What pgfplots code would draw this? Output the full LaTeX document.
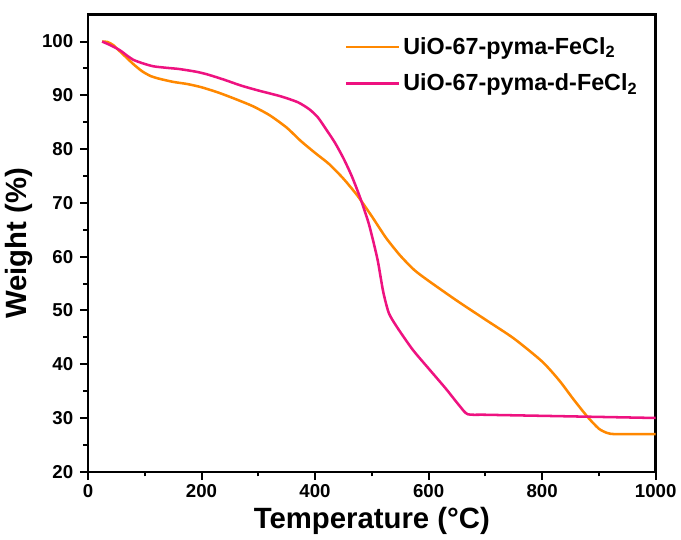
\documentclass[border=0pt]{standalone}
\usepackage{fontspec}
\setmainfont{Liberation Sans}
\usepackage{pgfplots}
\pgfplotsset{compat=1.18}
\definecolor{tgaorange}{RGB}{255,136,0}
\definecolor{tgapink}{RGB}{238,18,128}

\begin{document}
\begin{tikzpicture}
\begin{axis}[scale only axis,width=426pt,height=343pt,
  xmin=0,xmax=1000,ymin=20,ymax=105,
  xtick={0,200,...,1000},ytick={20,30,...,100},
  minor x tick num=1,minor y tick num=1,
  axis line style={line width=1.8pt},
  tick style={line width=1.5pt,black},
  tick align=outside,xtick pos=bottom,ytick pos=left,
  major tick length=6pt,minor tick length=3.5pt,
  /pgf/number format/assume math mode=true,
  /pgf/number format/1000 sep={},
  tick label style={font=\bfseries\fontsize{14}{16}\selectfont},
  yticklabel style={xshift=-1.5pt},
  xlabel={Temperature (°C)},ylabel={Weight (\%)},
  label style={font=\bfseries\fontsize{22}{25}\selectfont},
  legend style={draw=none,fill=none,at={(0.445,0.962)},anchor=north west,
    font=\bfseries\fontsize{17.5}{20}\selectfont,row sep=9pt,
    cells={anchor=west},nodes={xshift=2.5pt}},
  legend image code/.code={\draw[#1,line width=1.9pt] (0pt,0pt) -- (40pt,0pt);},
  every axis plot/.append style={line width=1.9pt,smooth,tension=0.4}]
\addplot[tgaorange] coordinates {
 (25,100) (35,99.9) (45,99.3) (55,98.3) (65,97.3) (80,95.8) (95,94.5)
 (110,93.6) (125,93.1) (150,92.5) (175,92.1) (200,91.5) (230,90.5)
 (260,89.3) (290,88.0) (320,86.3) (350,84.0) (375,81.5) (400,79.3)
 (425,77.2) (450,74.5) (475,71.3) (500,67.5) (525,63.5) (550,60.2)
 (575,57.5) (600,55.5) (650,51.8) (700,48.3) (750,44.8) (800,40.5)
 (830,37.0) (855,33.5) (880,30.2) (900,28.0) (915,27.2) (930,27.0)
 (1000,27.0)};
\addlegendentry{UiO-67-pyma-FeCl\textsubscript{2}}
\addplot[tgapink] coordinates {
 (25,100) (40,99.3) (56,98.4) (70,97.3) (80,96.6) (95,96.0) (115,95.4)
 (140,95.1) (160,94.9) (190,94.4) (210,93.9) (240,92.9) (270,91.8)
 (300,90.9) (340,89.8) (370,88.7) (390,87.4) (405,85.9) (420,83.6)
 (435,81.2) (450,78.3) (465,74.9) (480,70.8) (495,66.0) (510,59.5)
 (520,53.5) (530,49.5) (545,46.8) (572,42.7) (600,39.2) (630,35.5)
 (655,32.2) (669,30.7) (700,30.6) (800,30.4) (900,30.2) (1000,30.0)};
\addlegendentry{UiO-67-pyma-d-FeCl\textsubscript{2}}
\end{axis}
\pgfresetboundingbox
\path[use as bounding box] ([shift={(-66pt,-51pt)}]current axis.south west)
  rectangle ([shift={(19pt,11pt)}]current axis.north east);
\end{tikzpicture}
\end{document}
